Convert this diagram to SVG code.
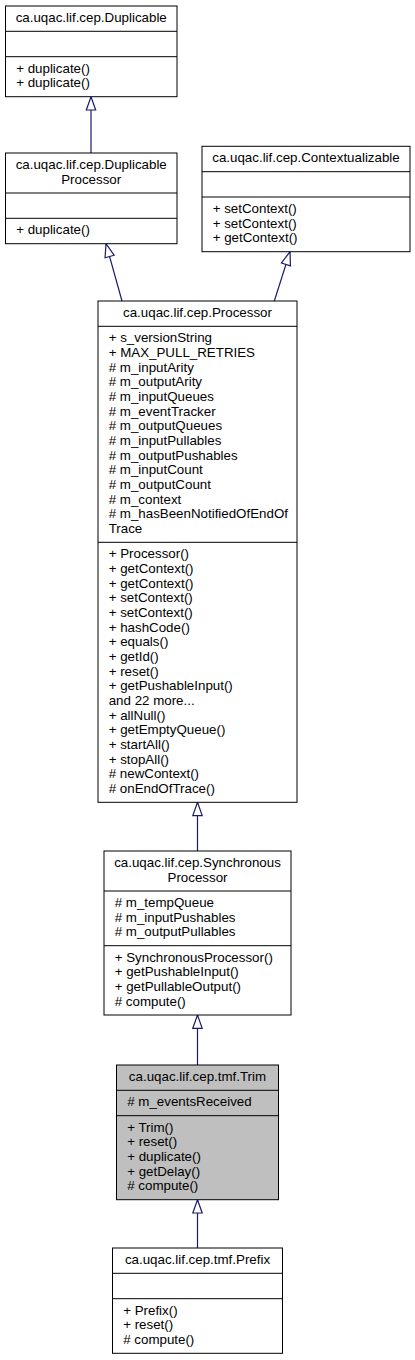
<svg xmlns="http://www.w3.org/2000/svg" width="415" height="1360" viewBox="0 0 415 1360">
<style>
.box{fill:#ffffff;stroke:#000000;stroke-width:1}
.cur{fill:#bfbfbf;stroke:#000000;stroke-width:1}
.sep{stroke:#000000;stroke-width:1}
text{font-family:"Liberation Sans",Arial,Helvetica,sans-serif;font-size:13.33px;fill:#000000}
.t{text-anchor:middle}
.edge{fill:none;stroke:#191970;stroke-width:1.2;marker-end:url(#tri)}
</style>
<defs>
<marker id="tri" markerUnits="userSpaceOnUse" viewBox="0 0 14 10" markerWidth="14" markerHeight="10" refX="13.3" refY="5" orient="auto" overflow="visible">
<path d="M0,0.3 L13.3,5 L0,9.7 Z" fill="#ffffff" stroke="#191970" stroke-width="1.2"/>
</marker>
</defs>
<rect width="415" height="1360" fill="#ffffff"/>

<g id="connectors">
<path class="edge" d="M91,153 L91,96.7"/>
<path class="edge" d="M122,301 L106,243.7"/>
<path class="edge" d="M274.3,301 L290,251.7"/>
<path class="edge" d="M197.5,851 L197.5,802.3"/>
<path class="edge" d="M197.5,1065 L197.5,1015"/>
<path class="edge" d="M197.5,1248 L197.5,1199.7"/>
</g>

<g id="Duplicable">
<rect class="box" x="5.5" y="6" width="171.5" height="90.7"/>
<line class="sep" x1="5.5" y1="31.3" x2="177" y2="31.3"/>
<line class="sep" x1="5.5" y1="56.7" x2="177" y2="56.7"/>
<text class="t" x="91.2" y="22">ca.uqac.lif.cep.Duplicable</text>
<text x="16.2" y="72.7">+ duplicate()</text>
<text x="16.2" y="87.3">+ duplicate()</text>
</g>

<g id="DuplicableProcessor">
<rect class="box" x="5.5" y="153" width="171.5" height="90.7"/>
<line class="sep" x1="5.5" y1="193" x2="177" y2="193"/>
<line class="sep" x1="5.5" y1="218.3" x2="177" y2="218.3"/>
<text class="t" x="91.2" y="169">ca.uqac.lif.cep.Duplicable</text>
<text class="t" x="91.2" y="183.7">Processor</text>
<text x="16.2" y="234.3">+ duplicate()</text>
</g>

<g id="Contextualizable">
<rect class="box" x="202" y="146.3" width="208" height="105.4"/>
<line class="sep" x1="202" y1="171.7" x2="410" y2="171.7"/>
<line class="sep" x1="202" y1="197" x2="410" y2="197"/>
<text class="t" x="306" y="162.3">ca.uqac.lif.cep.Contextualizable</text>
<text x="212.7" y="213">+ setContext()</text>
<text x="212.7" y="227.7">+ setContext()</text>
<text x="212.7" y="242.3">+ getContext()</text>
</g>

<g id="Processor">
<rect class="box" x="98" y="301" width="199" height="501.3"/>
<line class="sep" x1="98" y1="326.3" x2="297" y2="326.3"/>
<line class="sep" x1="98" y1="542.3" x2="297" y2="542.3"/>
<text class="t" x="197.5" y="317">ca.uqac.lif.cep.Processor</text>
<text x="108.7" y="342.3">+ s_versionString</text>
<text x="108.7" y="357">+ MAX_PULL_RETRIES</text>
<text x="108.7" y="371.7"># m_inputArity</text>
<text x="108.7" y="386.3"># m_outputArity</text>
<text x="108.7" y="401"># m_inputQueues</text>
<text x="108.7" y="415.7"># m_eventTracker</text>
<text x="108.7" y="430.3"># m_outputQueues</text>
<text x="108.7" y="445"># m_inputPullables</text>
<text x="108.7" y="459.7"># m_outputPushables</text>
<text x="108.7" y="474.3"># m_inputCount</text>
<text x="108.7" y="489"># m_outputCount</text>
<text x="108.7" y="503.7"># m_context</text>
<text x="108.7" y="518.3"># m_hasBeenNotifiedOfEndOf</text>
<text x="108.7" y="533">Trace</text>
<text x="108.7" y="558.3">+ Processor()</text>
<text x="108.7" y="573">+ getContext()</text>
<text x="108.7" y="587.7">+ getContext()</text>
<text x="108.7" y="602.3">+ setContext()</text>
<text x="108.7" y="617">+ setContext()</text>
<text x="108.7" y="631.7">+ hashCode()</text>
<text x="108.7" y="646.3">+ equals()</text>
<text x="108.7" y="661">+ getId()</text>
<text x="108.7" y="675.7">+ reset()</text>
<text x="108.7" y="690.3">+ getPushableInput()</text>
<text x="108.7" y="705">and 22 more...</text>
<text x="108.7" y="719.7">+ allNull()</text>
<text x="108.7" y="734.3">+ getEmptyQueue()</text>
<text x="108.7" y="749">+ startAll()</text>
<text x="108.7" y="763.7">+ stopAll()</text>
<text x="108.7" y="778.3"># newContext()</text>
<text x="108.7" y="793"># onEndOfTrace()</text>
</g>

<g id="SynchronousProcessor">
<rect class="box" x="104" y="851" width="187" height="164"/>
<line class="sep" x1="104" y1="891" x2="291" y2="891"/>
<line class="sep" x1="104" y1="945.7" x2="291" y2="945.7"/>
<text class="t" x="197.5" y="867">ca.uqac.lif.cep.Synchronous</text>
<text class="t" x="197.5" y="881.7">Processor</text>
<text x="114.7" y="907"># m_tempQueue</text>
<text x="114.7" y="921.7"># m_inputPushables</text>
<text x="114.7" y="936.3"># m_outputPullables</text>
<text x="114.7" y="961.7">+ SynchronousProcessor()</text>
<text x="114.7" y="976.3">+ getPushableInput()</text>
<text x="114.7" y="991">+ getPullableOutput()</text>
<text x="114.7" y="1005.7"># compute()</text>
</g>

<g id="Trim">
<rect class="cur" x="116.5" y="1065" width="162" height="134.7"/>
<line class="sep" x1="116.5" y1="1090.3" x2="278.5" y2="1090.3"/>
<line class="sep" x1="116.5" y1="1115.7" x2="278.5" y2="1115.7"/>
<text class="t" x="197.5" y="1081">ca.uqac.lif.cep.tmf.Trim</text>
<text x="127.2" y="1106.3"># m_eventsReceived</text>
<text x="127.2" y="1131.7">+ Trim()</text>
<text x="127.2" y="1146.3">+ reset()</text>
<text x="127.2" y="1161">+ duplicate()</text>
<text x="127.2" y="1175.7">+ getDelay()</text>
<text x="127.2" y="1190.3"># compute()</text>
</g>

<g id="Prefix">
<rect class="box" x="112.5" y="1248" width="170" height="105.3"/>
<line class="sep" x1="112.5" y1="1273.3" x2="282.5" y2="1273.3"/>
<line class="sep" x1="112.5" y1="1298.7" x2="282.5" y2="1298.7"/>
<text class="t" x="197.5" y="1264">ca.uqac.lif.cep.tmf.Prefix</text>
<text x="123.2" y="1314.7">+ Prefix()</text>
<text x="123.2" y="1329.3">+ reset()</text>
<text x="123.2" y="1344"># compute()</text>
</g>
</svg>
